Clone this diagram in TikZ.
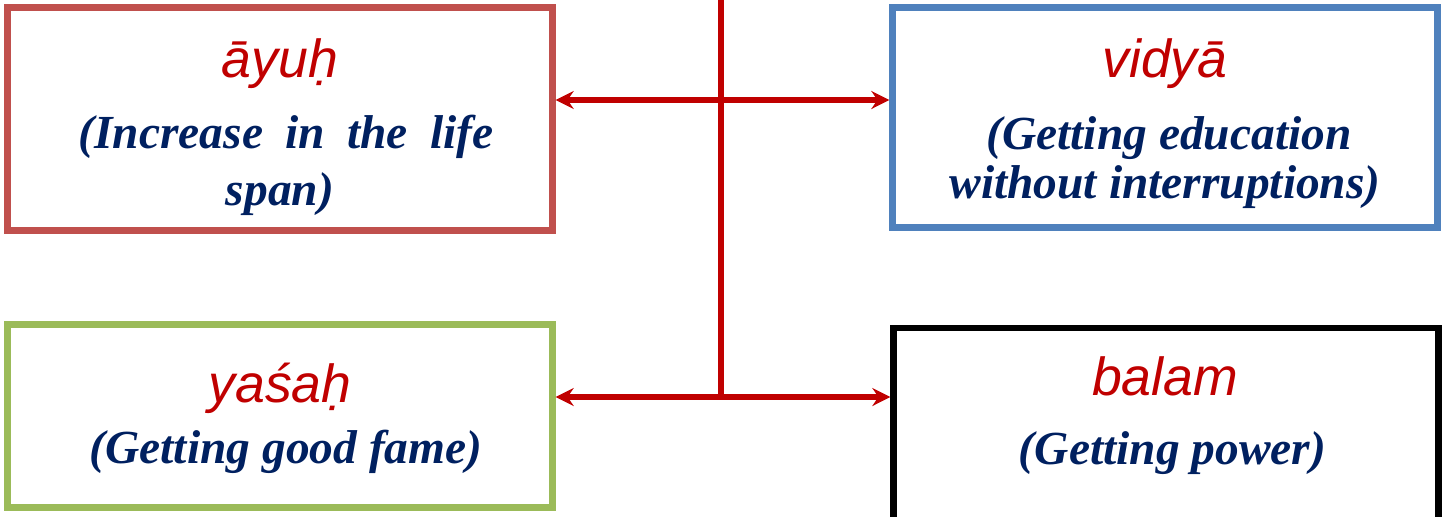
\documentclass[tikz,border=0pt]{standalone}
\usepackage{fontspec}
\setmainfont{Liberation Serif}
\newfontfamily\skfont{Liberation Sans}
\usetikzlibrary{arrows.meta}

\definecolor{linkred}{RGB}{192,0,0}
\definecolor{navy}{RGB}{0,32,96}
\definecolor{boxred}{RGB}{192,80,77}
\definecolor{boxblue}{RGB}{79,129,189}
\definecolor{boxgreen}{RGB}{155,187,89}

\tikzset{
  goal/.style={draw=#1,line width=3.6pt,minimum width=10.9cm},
  term/.style={anchor=base,inner sep=0pt,text=linkred,font=\skfont\itshape\fontsize{30.5}{34}\selectfont},
  gloss/.style={anchor=base,inner sep=0pt,text=navy,font=\bfseries\itshape\fontsize{27}{33}\selectfont},
  link/.style={draw=linkred,line width=3pt},
  tip/.style={{Stealth[length=3.6mm,width=3.6mm,inset=1.2mm]}-{Stealth[length=3.6mm,width=3.6mm,inset=1.2mm]}}
}

\begin{document}
\begin{tikzpicture}
  \clip (0,0) rectangle (28.84,10.32);
  \node[goal=boxred,minimum height=4.46cm] (ayuh) at (5.6,7.94) {};
  \node[goal=boxblue,minimum height=4.4cm] (vidya) at (23.3,7.97) {};
  \node[goal=boxgreen,minimum height=3.66cm] (yasah) at (5.6,2.0) {};
  \node[goal=black,minimum height=5cm,anchor=north] (balam) at (23.32,3.82) {};

  \node[term] (ayuhterm) at (5.6,8.78) {āyuḥ};
  \node[gloss] (ayuhgloss) at (5.72,7.36) {\spaceskip=0.47em (Increase in the life};
  \node[gloss] (ayuhgloss2) at (5.6,6.22) {span)};
  \node[term] (vidyaterm) at (23.3,8.78) {vidyā};
  \node[gloss] (vidyagloss) at (23.38,7.34) {(Getting education};
  \node[gloss] (vidyagloss2) at (23.3,6.36) {without interruptions)};
  \node[term] (yasahterm) at (5.6,2.28) {yaśaḥ};
  \node[gloss] (yasahgloss) at (5.72,1.06) {(Getting good fame)};
  \node[term] (balamterm) at (23.3,2.42) {balam};
  \node[gloss] (balamgloss) at (23.45,1.04) {(Getting power)};

  \coordinate (top) at (14.42,10.6);
  \coordinate (hubt) at (14.42,8.32);
  \coordinate (hubb) at (14.42,2.38);
  \draw[link] (top) -- (hubb);
  \draw[link,tip] (ayuh.east |- hubt) -- (vidya.west |- hubt);
  \draw[link,tip] (yasah.east |- hubb) -- (balam.west |- hubb);
\end{tikzpicture}
\end{document}
